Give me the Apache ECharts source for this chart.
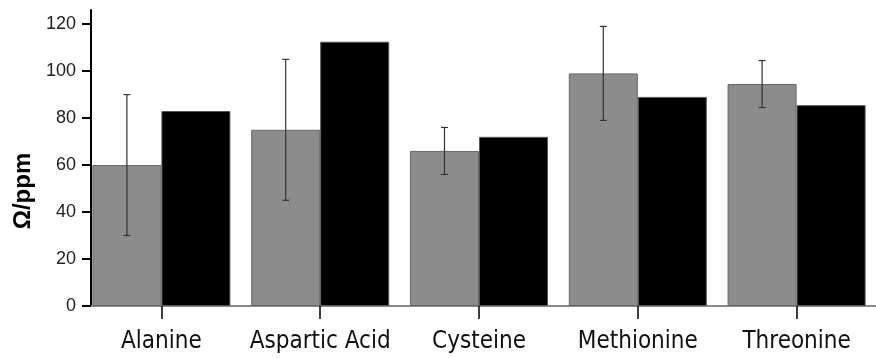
<!DOCTYPE html>
<html><head><meta charset="utf-8">
<script src="https://cdn.jsdelivr.net/npm/echarts@6/dist/echarts.min.js"></script>
<style>html,body{margin:0;padding:0;background:#fff}#c{width:876px;height:358px}</style>
</head><body><div id="c"></div>
<script>
const categories = ['Alanine', 'Aspartic Acid', 'Cysteine', 'Methionine', 'Threonine'];
const grayValues = [60, 75, 66, 99, 94.5];
const blackValues = [83, 112.5, 72, 89, 85.5];
const grayErrors = [30, 30, 10, 20, 10];
const yTicks = [0, 20, 40, 60, 80, 100, 120];

const BAR_W = 69;
const chart = echarts.init(document.getElementById('c'), null, {renderer: 'canvas'});
const errData = categories.map((c, i) => [i, grayValues[i] - grayErrors[i], grayValues[i] + grayErrors[i]]);

chart.setOption({
  animation: false,
  backgroundColor: '#fff',
  grid: [
    {left: 82, right: 0, top: 10, bottom: 52},
    {left: 91, right: 0, top: 10, bottom: 52}
  ],
  xAxis: [
    {
      type: 'category', data: categories, gridIndex: 0,
      axisLine: {show: false},
      axisTick: {show: true, interval: 0, alignWithLabel: true, length: 13, lineStyle: {color: '#000', width: 1.5}},
      axisLabel: {interval: 0, color: '#111', fontSize: 24, fontFamily: "'DejaVu Sans Condensed', 'Liberation Sans', sans-serif", margin: 24},
      z: 5
    },
    {
      type: 'value', gridIndex: 1, min: 0, max: 1,
      axisLine: {show: true, lineStyle: {color: '#8a8a8a', width: 2}},
      axisTick: {show: false}, axisLabel: {show: false}, splitLine: {show: false}
    }
  ],
  yAxis: [
    {
      type: 'value', gridIndex: 0, min: 0, max: 126, interval: 20, offset: -9,
      name: 'Ω/ppm', nameLocation: 'middle', nameGap: 56, nameRotate: 90, nameMoveOverlap: false,
      nameTextStyle: {fontSize: 24, fontWeight: 'bold', color: '#000', fontFamily: 'Liberation Sans', padding: [0, 66, 0, 0]},
      axisLine: {show: true, lineStyle: {color: '#000', width: 2}},
      axisTick: {show: true, length: 9, customValues: yTicks, lineStyle: {color: '#000', width: 2}},
      axisLabel: {customValues: yTicks, color: '#222', fontSize: 18, fontFamily: 'Liberation Sans', margin: 15},
      splitLine: {show: false}
    },
    {type: 'value', gridIndex: 1, show: false, min: 0, max: 1}
  ],
  series: [
    {
      type: 'bar', data: grayValues, barWidth: BAR_W, barGap: '0%',
      itemStyle: {color: '#8c8c8c', borderColor: '#666', borderWidth: 1},
      z: 2
    },
    {
      type: 'bar', data: blackValues, barWidth: BAR_W, barGap: '0%',
      itemStyle: {color: '#000', borderColor: '#555', borderWidth: 1},
      z: 2
    },
    {
      type: 'custom', data: errData, z: 4,
      encode: {x: 0, y: [1, 2]},
      renderItem: function (params, api) {
        const i = api.value(0);
        const lo = api.coord([i, api.value(1)]);
        const hi = api.coord([i, api.value(2)]);
        const x = lo[0] - BAR_W / 2;
        const cap = 3.5;
        const style = {stroke: '#333', lineWidth: 1.2};
        return {
          type: 'group',
          children: [
            {type: 'line', shape: {x1: x, y1: lo[1], x2: x, y2: hi[1]}, style: style},
            {type: 'line', shape: {x1: x - cap, y1: lo[1], x2: x + cap, y2: lo[1]}, style: style},
            {type: 'line', shape: {x1: x - cap, y1: hi[1], x2: x + cap, y2: hi[1]}, style: style}
          ]
        };
      }
    }
  ]
});
</script>
</body></html>
